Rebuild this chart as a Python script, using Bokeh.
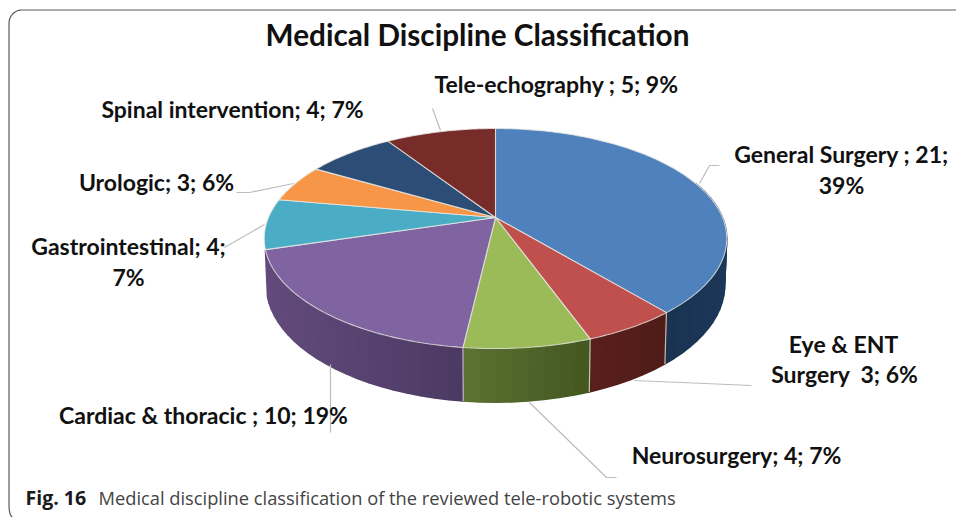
import math
from bokeh.plotting import figure
from bokeh.models import Range1d, ColumnDataSource
from bokeh.core.properties import value
from bokeh.embed import file_html
from bokeh.resources import INLINE

# ---- data
categories = ["General Surgery", "Eye & ENT Surgery", "Neurosurgery", "Cardiac & thoracic",
              "Gastrointestinal", "Urologic", "Spinal intervention", "Tele-echography"]
counts = [21, 3, 4, 10, 4, 3, 4, 5]
title_text = "Medical Discipline Classification"
caption_bold = "Fig. 16"
caption_rest = "Medical discipline classification of the reviewed tele-robotic systems"
label_lines = [
    ["General Surgery ; 21;", "39%"],
    ["Eye & ENT", "Surgery\u00a0 3; 6%"],
    ["Neurosurgery; 4; 7%"],
    ["Cardiac & thoracic ; 10; 19%"],
    ["Gastrointestinal; 4;", "7%"],
    ["Urologic; 3; 6%"],
    ["Spinal intervention; 4; 7%"],
    ["Tele-echography ; 5; 9%"],
]

# ---- styles
top_colors = ["#4f81bd", "#c0504d", "#9bbb59", "#8064a2", "#4bacc6", "#f79646", "#2c4d75", "#772c2a"]
wall_left = ["#1a3351", "#5a1f1b", "#5c7333", "#624b7c", "#2e7f95", "#b86a2a", "#1a3351", "#4f1d1b"]
wall_right = ["#1b3555", "#4f1c18", "#42561f", "#4c3963", "#2e7f95", "#b86a2a", "#1a3351", "#4f1d1b"]
LABEL = "#111111"
LEADER = "#bdbdbd"

# ---- projection of the tilted disc onto the page
CX = 495.0
KP = 0.191


def project(theta, level):
    t = math.radians(theta)
    X, Y = math.sin(t), math.cos(t)
    d = 1 + KP * Y
    if level == "top":
        return CX + 227 * X / d, 217 - 106 * Y / d
    return CX + 225 * X / d, 262 - 113 * Y / d


def arc(a, b, level, step=1.0):
    n = max(2, int(abs(b - a) / step) + 1)
    return [project(a + (b - a) * i / (n - 1), level) for i in range(n)]


def hex_mix(c1, c2, f):
    rgb1 = [int(c1[i:i + 2], 16) for i in (1, 3, 5)]
    rgb2 = [int(c2[i:i + 2], 16) for i in (1, 3, 5)]
    return "#%02x%02x%02x" % tuple(round(p + (q - p) * f) for p, q in zip(rgb1, rgb2))


total = sum(counts)
edges = [0.0]
for c in counts:
    edges.append(edges[-1] + 360.0 * c / total)

p = figure(width=956, height=517, output_backend="svg", toolbar_location=None,
           x_range=Range1d(0, 956), y_range=Range1d(517, 0), min_border=0)
p.xaxis.visible = False
p.yaxis.visible = False
p.xgrid.visible = False
p.ygrid.visible = False
p.outline_line_color = None

# ---- card border
r = 13
border = [(956, 9.5)] + [(8.5 + r - r * math.sin(math.radians(a)), 9.5 + r - r * math.cos(math.radians(a)))
                         for a in range(0, 91, 10)]
border += [(8.5, 505)] + [(8.5 + 4 - 4 * math.cos(math.radians(a)), 505 + 12 * math.sin(math.radians(a)))
                          for a in range(0, 91, 15)]
p.line([q[0] for q in border], [q[1] for q in border], line_color="#5a5a5a", line_width=1.2)

# ---- side walls (front part only: the left silhouette ends at the cardiac slice)
xs, ys, cols = [], [], []
for i in range(len(counts)):
    a, b = max(edges[i], 70.0), min(edges[i + 1], edges[4])
    if b <= a:
        continue
    n = max(1, int((b - a) / 3.0))
    xl = min(project(a, "top")[0], project(b, "top")[0])
    xr = max(project(a, "top")[0], project(b, "top")[0])
    for k in range(n):
        t0, t1 = a + (b - a) * k / n, a + (b - a) * (k + 1) / n
        poly = [project(t0, "top"), project(t1, "top"), project(t1, "bottom"), project(t0, "bottom")]
        xm = (poly[0][0] + poly[1][0]) / 2
        f = (xm - xl) / (xr - xl) if xr > xl else 0
        xs.append([q[0] for q in poly])
        ys.append([q[1] for q in poly])
        cols.append(hex_mix(wall_left[i], wall_right[i], f))
p.patches(xs="xs", ys="ys", fill_color="cols", line_color="cols", line_width=1.5,
          source=ColumnDataSource(dict(xs=xs, ys=ys, cols=cols)))

# wall separators between slices
for e in edges[1:4]:
    t, bt = project(e, "top"), project(e, "bottom")
    p.line([t[0], bt[0]], [t[1], bt[1]], line_color="#d5d8cc", line_width=1.2, line_alpha=0.85)

# ---- top faces
txs, tys = [], []
for i in range(len(counts)):
    pts = [(CX, 217.0)] + arc(edges[i], edges[i + 1], "top")
    txs.append([q[0] for q in pts])
    tys.append([q[1] for q in pts])
p.patches(xs="xs", ys="ys", fill_color="cols", line_color="#e9e9e4", line_width=1.1, line_alpha=0.8,
          source=ColumnDataSource(dict(xs=txs, ys=tys, cols=top_colors)))

# ---- leader lines
leaders = [
    ([699, 709, 719], [183, 165, 165]),
    ([634, 751], [380, 385]),
    ([529, 606, 616], [402, 477, 477]),
    ([330, 330], [364, 432]),
    ([264, 224], [224, 247]),
    ([293, 249, 236], [183, 192, 192]),
    ([440, 432], [130, 108]),
]
for lx, ly in leaders:
    p.line(lx, ly, line_color=LEADER, line_width=1.2)

# ---- texts
label_font = value("Lato")


def put(x, y, s, size, align="left", font=label_font, style="bold", color=LABEL):
    p.text([x], [y], text=[s], text_font=font, text_font_size=size, text_font_style=style,
           text_color=color, text_align=align, text_baseline="alphabetic")


put(477, 34, title_text, "29.7px", "center")
LSIZE = "23px"
anchors = [
    [(841, 153), (841, 184)],
    [(843, 343), (844, 373)],
    [(736, 454)],
    [(203, 414)],
    [(128, 245), (128, 276)],
    [(156, 181)],
    [(232, 108)],
    [(556, 83)],
]
for lines, pos in zip(label_lines, anchors):
    for s, (x, y) in zip(lines, pos):
        put(x, y, s, LSIZE, "center")

cap_font = value("Open Sans")
put(25, 497, caption_bold, "19.5px", "left", cap_font, "bold", "#1a1a1a")
put(98, 497, caption_rest, "18.3px", "left", cap_font, "normal", "#444444")

open("out.html", "w").write(file_html(p, INLINE))
